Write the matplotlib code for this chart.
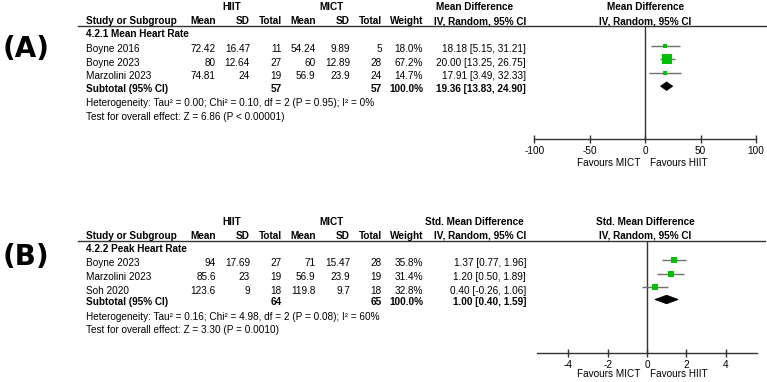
import matplotlib
matplotlib.use("Agg")
import matplotlib.pyplot as plt
from matplotlib.lines import Line2D
from matplotlib.patches import Polygon

W, H = 767, 382
FONT = ['Liberation Sans', 'DejaVu Sans']
FS = 7.2
plt.rcParams['font.family'] = FONT

# ---------------- data ----------------
studies_a = ["Boyne 2016", "Boyne 2023", "Marzolini 2023"]
hiit_mean_a = [72.42, 80, 74.81]
hiit_sd_a = [16.47, 12.64, 24]
hiit_n_a = [11, 27, 19]
mict_mean_a = [54.24, 60, 56.9]
mict_sd_a = [9.89, 12.89, 23.9]
mict_n_a = [5, 28, 24]
weight_a = [18.0, 67.2, 14.7]
est_a = [18.18, 20.00, 17.91]
lo_a = [5.15, 13.25, 3.49]
hi_a = [31.21, 26.75, 32.33]
total_a = (57, 57, "100.0%", 19.36, 13.83, 24.90)
het_a = "Heterogeneity: Tau\u00b2 = 0.00; Chi\u00b2 = 0.10, df = 2 (P = 0.95); I\u00b2 = 0%"
test_a = "Test for overall effect: Z = 6.86 (P < 0.00001)"
ticks_a = [-100, -50, 0, 50, 100]

studies_b = ["Boyne 2023", "Marzolini 2023", "Soh 2020"]
hiit_mean_b = [94, 85.6, 123.6]
hiit_sd_b = [17.69, 23, 9]
hiit_n_b = [27, 19, 18]
mict_mean_b = [71, 56.9, 119.8]
mict_sd_b = [15.47, 23.9, 9.7]
mict_n_b = [28, 19, 18]
weight_b = [35.8, 31.4, 32.8]
est_b = [1.37, 1.20, 0.40]
lo_b = [0.77, 0.50, -0.26]
hi_b = [1.96, 1.89, 1.06]
total_b = (64, 65, "100.0%", 1.00, 0.40, 1.59)
het_b = "Heterogeneity: Tau\u00b2 = 0.16; Chi\u00b2 = 4.98, df = 2 (P = 0.08); I\u00b2 = 60%"
test_b = "Test for overall effect: Z = 3.30 (P = 0.0010)"
ticks_b = [-4, -2, 0, 2, 4]

fig = plt.figure(figsize=(W / 100, H / 100), dpi=100)


def ftxt(x, y, s, ha='left', bold=False, size=FS, **kw):
    fig.text(x / W, 1 - y / H, s, ha=ha, va='center', fontsize=size,
             fontweight='bold' if bold else 'normal', **kw)


def hline(x0, x1, y, lw=1.0, color='#333333'):
    fig.add_artist(Line2D([x0 / W, x1 / W], [1 - y / H, 1 - y / H],
                          transform=fig.transFigure, color=color, lw=lw))


COLS = [216, 250, 281.6, 315.5, 350, 381.7, 423, 526]


def fmt_ci(e, l, h):
    return f"{e:.2f} [{l:.2f}, {h:.2f}]"


def panel(letter, letter_y, rows_y, studies, hm, hs, hn, mm, ms, mn, wt,
          est, lo, hi, total, het, test, subgroup, title, line_x1,
          ax_left, ax_right, xlim, ticks, hdr_center):
    (y_h1, y_h2, y_line, y_sub, y_rows, y_tot, y_het, y_test,
     y_axis, y_tick, y_fav) = rows_y
    ftxt(3, letter_y, letter, bold=True, size=20, family=['DejaVu Sans'])
    ftxt(232, y_h1, "HIIT", ha='center', bold=True)
    ftxt(331, y_h1, "MICT", ha='center', bold=True)
    ftxt(hdr_center, y_h1, title, ha='center', bold=True)
    ftxt(645.5, y_h1, title, ha='center', bold=True)
    ftxt(86.5, y_h2, "Study or Subgroup", bold=True)
    for x, s in zip(COLS[:7], ["Mean", "SD", "Total", "Mean", "SD", "Total", "Weight"]):
        ftxt(x, y_h2, s, ha='right', bold=True)
    ftxt(COLS[7], y_h2, "IV, Random, 95% CI", ha='right', bold=True)
    ftxt(645.5, y_h2, "IV, Random, 95% CI", ha='center', bold=True)
    hline(78, line_x1, y_line)
    ftxt(86.5, y_sub, subgroup, bold=True)
    for i, s in enumerate(studies):
        y = y_rows[i]
        ftxt(86.5, y, s)
        vals = [hm[i], hs[i], hn[i], mm[i], ms[i], mn[i], f"{wt[i]:.1f}%",
                fmt_ci(est[i], lo[i], hi[i])]
        for x, v in zip(COLS, vals):
            ftxt(x, y, str(v), ha='right')
    ftxt(86.5, y_tot, "Subtotal (95% CI)", bold=True)
    ftxt(COLS[2], y_tot, str(total[0]), ha='right', bold=True)
    ftxt(COLS[5], y_tot, str(total[1]), ha='right', bold=True)
    ftxt(COLS[6], y_tot, total[2], ha='right', bold=True)
    ftxt(COLS[7], y_tot, fmt_ci(*total[3:]), ha='right', bold=True)
    ftxt(86.5, y_het, het)
    ftxt(86.5, y_test, test)

    # forest plot axes, y axis in pixel units
    ax = fig.add_axes([ax_left / W, 1 - y_axis / H, (ax_right - ax_left) / W,
                       (y_axis - y_line) / H])
    ax.set_xlim(*xlim)
    ax.set_ylim(y_axis, y_line)
    for sp in ['top', 'left', 'right']:
        ax.spines[sp].set_visible(False)
    ax.spines['bottom'].set_color('#333333')
    ax.spines['bottom'].set_linewidth(1.0)
    ax.patch.set_alpha(0)
    ax.set_yticks([])
    ax.set_xticks(ticks)
    ax.set_xticklabels([f"{t}" for t in ticks])
    ax.tick_params(axis='x', direction='inout', length=6, width=1.0,
                   color='#333333', labelsize=FS, pad=2)
    ax.axvline(0, color='#333333', lw=1.0)
    for i in range(len(studies)):
        y = y_rows[i] - 3.5
        ax.plot([lo[i], hi[i]], [y, y], color='#707070', lw=1.0,
                solid_capstyle='butt', zorder=2)
        side = max(4.3, 0.16 * wt[i])
        ax.plot([est[i]], [y], marker='s', ls='none', color='#00c000',
                markersize=side * 0.72, markeredgewidth=0, zorder=3)
    yd = y_tot - 2.5
    e, l, h = total[3:]
    ax.add_patch(Polygon([[l, yd], [e, yd - 4.3], [h, yd], [e, yd + 4.3]],
                         closed=True, facecolor='black', edgecolor='black',
                         lw=0.5, zorder=3))
    fig.text((645.5 - 5) / W, 1 - y_fav / H, "Favours MICT", ha='right',
             va='center', fontsize=FS)
    fig.text((645.5 + 4) / W, 1 - y_fav / H, "Favours HIIT", ha='left',
             va='center', fontsize=FS)


panel("(A)", 49, (7, 21, 25.5, 34.3, [49.3, 62.7, 76.3], 88.7, 103.3, 117.3,
                  139.3, 150.7, 162.7),
      studies_a, hiit_mean_a, hiit_sd_a, hiit_n_a, mict_mean_a, mict_sd_a,
      mict_n_a, weight_a, est_a, lo_a, hi_a, total_a, het_a, test_a,
      "4.2.1 Mean Heart Rate", "Mean Difference", 767,
      534.3, 756, (-100, 100), ticks_a, 475)

panel("(B)", 257.5, (222.3, 235.7, 240.7, 249.3, [263.3, 277.3, 290.7], 302,
                     317.3, 330, 353, 363.3, 374.3),
      studies_b, hiit_mean_b, hiit_sd_b, hiit_n_b, mict_mean_b, mict_sd_b,
      mict_n_b, weight_b, est_b, lo_b, hi_b, total_b, het_b, test_b,
      "4.2.2 Peak Heart Rate", "Std. Mean Difference", 765,
      537, 757, (-5.6, 5.6), ticks_b, 474.5)

fig.savefig("out.png", dpi=100, facecolor='white')
